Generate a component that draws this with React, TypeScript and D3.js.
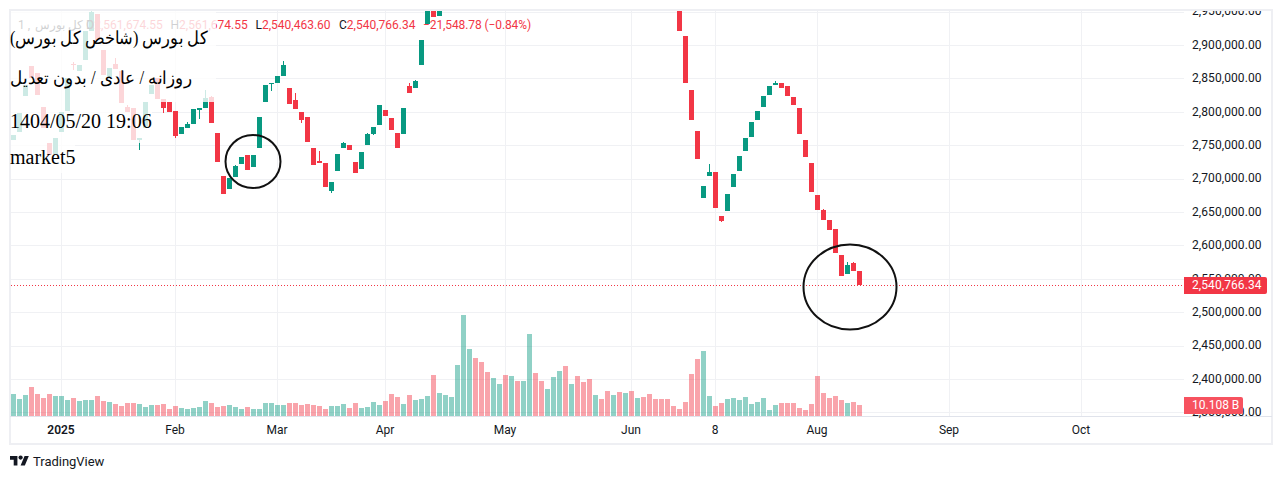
import React from "react";
import * as d3 from "d3";

const WIDTH = 1282;
const HEIGHT = 479;

const UP = "#089981";
const DOWN = "#f23645";

// null = the candle is outside of the visible price range
const opens: (number | null)[] = [
  2757800, 2769800, 2823700, 2868600, 2858100, 2807200, 2753300, 2736800, 2769800, 2801200,
  2871600, 2861100, 2877500, 2921000, 2946400, 2892500, 2852100, 2871600, 2861100, 2807200,
  2805700, 2757800, 2775700, 2826700, 2850600, 2819200, 2814700, 2801200, 2766800, 2775700,
  2781700, 2802700, 2805700, 2822200, 2768300, 2703900, 2684400, 2702400, 2721800, 2735300,
  2717400, 2745800, 2814700, 2841600, 2843100, 2853600, 2835600, 2817700, 2799700, 2792200,
  2745800, 2726300, 2723300, 2681400, 2711400, 2745800, 2750300, 2724800, 2714400, 2750300,
  2766800, 2780200, 2802700, 2790700, 2768300, 2766800, 2838600, 2835600, 2870100, 2931400,
  2965000, 2943400, null, null, null, null, null, null, null, null,
  null, null, null, null, null, null, null, null, null, null,
  null, null, null, null, null, null, null, null, null, null,
  null, null, null, null, null, null, null, null, null, null,
  null, 2960000, 2913500, 2832600, 2771300, 2671000, 2703900, 2709900, 2644000, 2651500,
  2687400, 2711400, 2741300, 2762300, 2787700, 2807200, 2825200, 2840100, 2843100, 2838600,
  2822200, 2805700, 2757800, 2723300, 2675400, 2653000, 2638000, 2624500, 2585600, 2557200,
  2573600, 2561674.55,
];

const closes: (number | null)[] = [
  2765300, 2798200, 2840100, 2850600, 2825200, 2775700, 2735300, 2760800, 2799700, 2850600,
  2870100, 2870100, 2921000, 2949400, 2907500, 2855100, 2865600, 2864100, 2813200, 2799700,
  2757800, 2760800, 2814700, 2840100, 2819200, 2805700, 2799700, 2763800, 2777200, 2781700,
  2804200, 2805700, 2820700, 2783200, 2724800, 2676900, 2700900, 2718900, 2732300, 2712900,
  2735300, 2792200, 2840100, 2843100, 2853600, 2870100, 2811700, 2804200, 2787700, 2754800,
  2720300, 2723300, 2687400, 2694900, 2736800, 2753300, 2742800, 2708400, 2739800, 2766800,
  2777200, 2810200, 2793700, 2772800, 2745800, 2805700, 2828100, 2846100, 2907500, 2960000,
  2941900, 2965000, null, null, null, null, null, null, null, null,
  null, null, null, null, null, null, null, null, null, null,
  null, null, null, null, null, null, null, null, null, null,
  null, null, null, null, null, null, null, null, null, null,
  null, 2921000, 2843100, 2787700, 2729300, 2688900, 2709900, 2656000, 2636500, 2676900,
  2706900, 2733800, 2760800, 2784700, 2801200, 2823700, 2838600, 2843100, 2835600, 2823700,
  2810200, 2766800, 2732300, 2679900, 2653000, 2638000, 2623100, 2588600, 2554200, 2570600,
  2562315.12, 2540766.34,
];

// only the candles whose wick sticks out of the body
const wickHighs: Record<number, number> = {
  10: 2874500, 13: 2952400, 17: 2880500, 19: 2810200, 29: 2784700, 32: 2832600, 33: 2823700,
  37: 2720300, 45: 2876000, 47: 2828100, 51: 2741300, 55: 2754800, 59: 2768300, 66: 2843100,
  67: 2847600, 116: 2721800, 127: 2846100, 135: 2654500, 139: 2575100, 140: 2575100,
};
const wickLows: Record<number, number> = {
  10: 2862600, 21: 2742800, 25: 2798200, 27: 2760800, 31: 2789200, 43: 2831100, 48: 2783200,
  53: 2678400, 60: 2765300, 118: 2635000, 141: 2540463.6,
};

// billions
const volumes = [
  20.2, 15.6, 19.3, 26.6, 20.2, 16.5, 20.2, 18.4, 18.4, 14.7,
  16.5, 13.8, 14.7, 14.7, 18.4, 13.8, 12.9, 11.0, 9.2, 11.9,
  11.9, 11.0, 8.3, 10.1, 10.1, 11.0, 6.4, 9.2, 7.3, 6.4,
  7.3, 8.3, 13.8, 11.9, 8.3, 9.2, 10.1, 8.3, 6.4, 8.3,
  6.4, 6.4, 11.9, 11.9, 10.1, 10.1, 11.9, 11.9, 10.1, 11.0,
  10.1, 9.2, 6.4, 9.2, 9.2, 11.0, 7.3, 11.9, 7.3, 8.3,
  12.9, 10.1, 13.8, 20.2, 17.4, 11.0, 19.3, 14.7, 15.6, 18.4,
  37.6, 21.1, 19.3, 17.4, 46.8, 92.7, 61.5, 53.2, 49.6, 40.4,
  34.9, 29.4, 37.6, 36.7, 32.1, 32.1, 75.3, 39.5, 32.1, 24.8,
  35.8, 41.3, 45.9, 29.4, 36.7, 31.2, 34.0, 19.3, 15.6, 23.0,
  19.3, 22.0, 21.1, 23.0, 16.5, 17.4, 20.2, 15.6, 15.6, 15.6,
  9.2, 6.4, 12.9, 38.6, 52.3, 59.7, 18.4, 9.2, 11.9, 15.6,
  16.5, 14.7, 17.4, 11.0, 12.9, 16.5, 5.5, 10.1, 11.9, 11.9,
  11.9, 7.3, 5.5, 11.0, 36.7, 21.1, 16.5, 18.4, 14.7, 11.9,
  12.9, 10.108,
];
const volumeUp = [
  1, 1, 1, 0, 0, 0, 0, 1, 1, 1, 0, 1, 1, 1, 0, 0, 1, 0, 0, 0,
  0, 1, 1, 1, 0, 0, 0, 0, 1, 1, 1, 1, 1, 0, 0, 0, 1, 1, 1, 0,
  1, 1, 1, 1, 1, 1, 0, 0, 0, 0, 0, 0, 0, 1, 1, 1, 0, 0, 1, 1,
  1, 1, 0, 0, 0, 1, 0, 1, 1, 1, 0, 1, 1, 1, 1, 1, 1, 0, 0, 0,
  1, 1, 0, 1, 0, 1, 1, 0, 0, 1, 1, 1, 0, 1, 0, 0, 0, 1, 0, 0,
  1, 0, 1, 0, 1, 0, 0, 0, 0, 0, 0, 0, 0, 0, 0, 1, 1, 0, 0, 1,
  1, 1, 1, 1, 1, 1, 1, 1, 0, 0, 0, 0, 0, 0, 0, 0, 0, 0, 0, 1,
  0, 0,
];

const priceTicks = d3.range(2350000, 2950001, 50000);
const timeTicks = [
  { index: 8, label: "2025", bold: true },
  { index: 27, label: "Feb" },
  { index: 44, label: "Mar" },
  { index: 62, label: "Apr" },
  { index: 82, label: "May" },
  { index: 103, label: "Jun" },
  { index: 117, label: "8" },
  { index: 134, label: "Aug" },
  { index: 156, label: "Sep" },
  { index: 178, label: "Oct" },
];

const lastPrice = 2540766.34;
const lastVolume = "10.108 B";

const legendItems = [
  { x: 86, label: "O", value: "2,561,674.55" },
  { x: 170.5, label: "H", value: "2,561,674.55" },
  { x: 255.5, label: "L", value: "2,540,463.60" },
  { x: 339, label: "C", value: "2,540,766.34" },
];

const x = d3.scaleLinear().domain([0, 141]).range([13.5, 859.5]);
const y = d3.scaleLinear().domain([2350000, 2950000]).range([412.4, 11.6]);
const yVol = d3.scaleLinear().domain([0, 100]).range([416, 307.2]);
const fmt = d3.format(",.2f");
// keep hairlines on the pixel grid
const crisp = (v: number) => Math.round(v) + 0.5;

const FONT = "Roboto, sans-serif";
const PLOT = { left: 11, right: 1184, top: 11, bottom: 416 };

export default function App() {
  return (
    <svg
      width={WIDTH}
      height={HEIGHT}
      style={{ position: "fixed", left: 0, top: 0, background: "#fff" }}
      fontFamily={FONT}
    >
      <defs>
        <clipPath id="plot">
          <rect x={PLOT.left} y={PLOT.top} width={PLOT.right - PLOT.left} height={PLOT.bottom - PLOT.top} />
        </clipPath>
        <clipPath id="scale">
          <rect x={PLOT.right} y={PLOT.top} width={88} height={PLOT.bottom - PLOT.top + 4} />
        </clipPath>
      </defs>

      {/* grid */}
      {priceTicks.map((t) => (
        <line key={t} x1={PLOT.left} x2={PLOT.right} y1={crisp(y(t))} y2={crisp(y(t))} stroke="#f0f1f4" />
      ))}
      {timeTicks.map((t) => (
        <line key={t.index} x1={x(t.index)} x2={x(t.index)} y1={PLOT.top} y2={PLOT.bottom} stroke="#f0f1f4" />
      ))}

      <g clipPath="url(#plot)">
        {volumes.map((v, i) => (
          <rect
            key={i}
            x={x(i) - 2.5}
            y={Math.round(yVol(v))}
            width={5}
            height={yVol(0) - Math.round(yVol(v))}
            fill={volumeUp[i] ? UP : DOWN}
            opacity={0.45}
          />
        ))}
        {opens.map((o, i) => {
          const c = closes[i];
          if (o === null || c === null) return null;
          const color = c >= o ? UP : DOWN;
          const hi = wickHighs[i] ?? Math.max(o, c);
          const lo = wickLows[i] ?? Math.min(o, c);
          const top = Math.round(y(Math.max(o, c)));
          const bottom = Math.round(y(Math.min(o, c)));
          return (
            <g key={i}>
              <line x1={x(i)} x2={x(i)} y1={Math.round(y(hi))} y2={Math.round(y(lo))} stroke={color} />
              <rect x={x(i) - 2.5} y={top} width={5} height={Math.max(1, bottom - top)} fill={color} />
            </g>
          );
        })}
      </g>

      <line
        x1={PLOT.left}
        x2={PLOT.right}
        y1={crisp(y(lastPrice))}
        y2={crisp(y(lastPrice))}
        stroke={DOWN}
        strokeDasharray="1 2"
      />

      {/* frame */}
      <rect x={10} y={10} width={1262} height={434} fill="none" stroke="#eeeff3" strokeWidth={2} />
      <line x1={10} x2={1272} y1={416.5} y2={416.5} stroke="#e0e3eb" />

      {/* price scale */}
      <g clipPath="url(#scale)" fontSize={12} fill="#131722">
        {priceTicks.map((t) => (
          <text key={t} x={1192} y={y(t)} dy="0.32em" letterSpacing={0.08}>
            {fmt(t)}
          </text>
        ))}
      </g>
      <path d="M1184 277h81a2 2 0 0 1 2 2v13a2 2 0 0 1-2 2h-81z" fill={DOWN} />
      <text x={1192} y={y(lastPrice)} dy="0.32em" fontSize={12} fill="#fff" letterSpacing={0.08}>
        {fmt(lastPrice)}
      </text>
      <path d="M1184 397h57a2 2 0 0 1 2 2v13a2 2 0 0 1-2 2h-57z" fill="#f7525f" />
      <text x={1192} y={405.5} dy="0.32em" fontSize={12} fill="#fff">
        {lastVolume}
      </text>

      {/* time scale */}
      {timeTicks.map((t) => (
        <text
          key={t.index}
          x={x(t.index) - 0.5}
          y={430}
          dy="0.3em"
          textAnchor="middle"
          fontSize={12}
          fontWeight={t.bold ? 600 : 400}
          fill="#131722"
        >
          {t.label}
        </text>
      ))}

      {/* legend */}
      <g fontSize={12}>
        <text x={18} y={24.5} dy="0.36em" fill="#131722">
          <tspan>1 ,</tspan>
          <tspan dx={5}>کل بورس</tspan>
          <tspan dx={3}>D</tspan>
        </text>
        {legendItems.map((d) => (
          <text key={d.label} x={d.x} y={24.5} dy="0.36em" fill="#131722">
            {d.label}
            <tspan fill={DOWN}>{d.value}</tspan>
          </text>
        ))}
        <text x={423} y={24.5} dy="0.36em" fill={DOWN} letterSpacing={-0.1}>
          −21,548.78 (−0.84%)
        </text>
      </g>

      {/* white boxes behind the pasted text */}
      <g fill="#fff" opacity={0.8}>
        <rect x={11} y={11} width={205} height={91} />
        <rect x={11} y={102} width={141} height={41} />
        <rect x={11} y={143} width={64} height={30} />
      </g>
      <g fontFamily="'Liberation Serif', serif" fontSize={20} fill="#000">
        <text x={208} y={44} direction="rtl" fontSize={18} textLength={198} lengthAdjust="spacingAndGlyphs">
          کل بورس (شاخص کل بورس)
        </text>
        <text x={192} y={84} direction="rtl" fontSize={18} textLength={182} lengthAdjust="spacingAndGlyphs">
          روزانه / عادی / بدون تعدیل
        </text>
        <text x={10} y={128}>
          1404/05/20 19:06
        </text>
        <text x={10} y={164}>
          market5
        </text>
      </g>

      {/* hand drawn circles */}
      <ellipse cx={253} cy={161.5} rx={27.5} ry={26.5} fill="none" stroke="#111" strokeWidth={2} />
      <ellipse cx={850} cy={287} rx={46.5} ry={42.5} fill="none" stroke="#111" strokeWidth={2} />

      {/* logo */}
      <g transform="translate(10 453.9) scale(0.53)" fill="#131722">
        <path d="M14 22H7V11H0V4h14v18zM28 22h-8l7.5-18h8L28 22z" />
        <circle cx={20} cy={7} r={4} />
      </g>
      <text x={33} y={461} dy="0.36em" fontSize={13} letterSpacing={-0.02} fill="#131722">
        TradingView
      </text>
    </svg>
  );
}
